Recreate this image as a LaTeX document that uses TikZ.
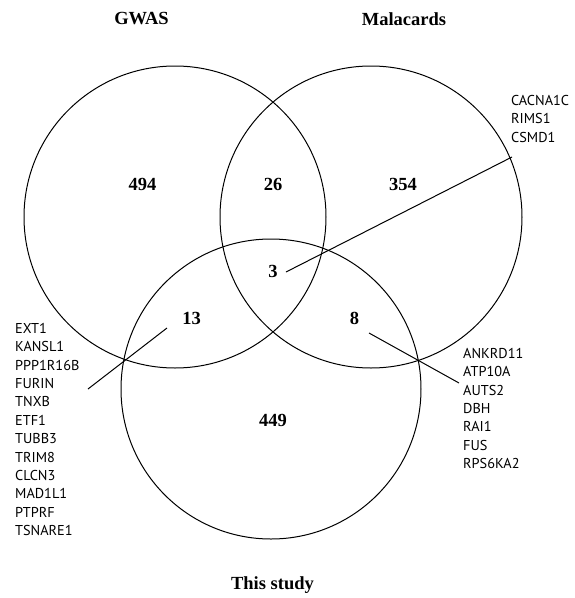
\documentclass[tikz,border=0pt]{standalone}
\usepackage{fontspec}
\setmainfont{Liberation Serif}
\newfontfamily\genefont{PT Sans}
\begin{document}
\begin{tikzpicture}[x=1pt,y=-1pt,
  vcircle/.style={draw=black,line width=1pt},
  setlabel/.style={font=\fontsize{18.5}{20}\selectfont\bfseries,inner sep=0pt},
  count/.style={font=\fontsize{18.5}{20}\selectfont\bfseries,inner sep=0pt},
  genes/.style={font=\genefont\fontsize{14.3}{18.4}\selectfont,align=left,anchor=north west,inner sep=0pt},
  leader/.style={draw=black,line width=1pt}]
\useasboundingbox (0,0) rectangle (575,598);
\draw[vcircle] (175,217) circle[radius=151];
\draw[vcircle] (371,217) circle[radius=151];
\draw[vcircle] (271,389) circle[radius=150];
\node[setlabel] (gwas) at (141.5,19) {GWAS};
\node[setlabel] (mala) at (404,19) {Malacards};
\node[setlabel] (this) at (272.5,585) {This study};
\node[count] (n494) at (142.5,184) {494};
\node[count] (n26) at (273,184) {26};
\node[count] (n354) at (403,184) {354};
\node[count] (n3) at (273,271.5) {3};
\node[count] (n13) at (191.5,318.5) {13};
\node[count] (n8) at (354.5,318.5) {8};
\node[count] (n449) at (273,420) {449};
\node[genes] (g3) at (511,95) {CACNA1C\\RIMS1\\CSMD1};
\node[genes] (g13) at (15,323) {EXT1\\KANSL1\\PPP1R16B\\FURIN\\TNXB\\ETF1\\TUBB3\\TRIM8\\CLCN3\\MAD1L1\\PTPRF\\TSNARE1};
\node[genes] (g8) at (463,348) {ANKRD11\\ATP10A\\AUTS2\\DBH\\RAI1\\FUS\\RPS6KA2};
\coordinate (a3) at (286,272);
\coordinate (b3) at (512,157);
\coordinate (a13) at (167,328);
\coordinate (b13) at (88,389);
\coordinate (a8) at (369,333);
\coordinate (b8) at (459,383);
\draw[leader] (a3) -- (b3);
\draw[leader] (a13) -- (b13);
\draw[leader] (a8) -- (b8);
\end{tikzpicture}
\end{document}
